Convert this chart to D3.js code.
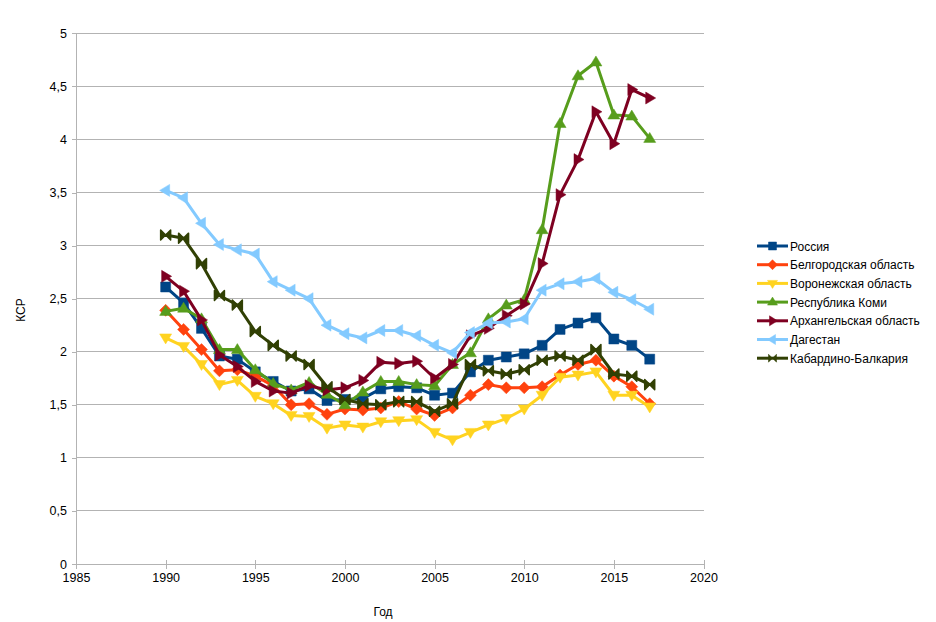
<!DOCTYPE html>
<html><head><meta charset="utf-8">
<script src="https://cdn.jsdelivr.net/npm/d3@7"></script>
<style>body{margin:0;background:#fff}svg{font-family:"Liberation Sans",Arial,sans-serif}</style>
</head><body><svg id="c" width="936" height="622"></svg>
<script>
const years = d3.range(1990, 2018);
const seriesNames = ["Россия","Белгородская область","Воронежская область","Республика Коми","Архангельская область","Дагестан","Кабардино-Балкария"];
const colors = ["#004586","#ff420e","#ffd320","#579d1c","#7e0021","#83caff","#314004"];
const markers = ["square","diamond","down","up","right","left","bowtie"];
const russia   = [2.61,2.46,2.22,1.96,1.93,1.81,1.72,1.63,1.65,1.54,1.55,1.56,1.65,1.67,1.66,1.59,1.61,1.81,1.92,1.95,1.98,2.06,2.21,2.27,2.32,2.12,2.06,1.93];
const belgorod = [2.39,2.21,2.02,1.82,1.83,1.77,1.68,1.50,1.51,1.41,1.46,1.45,1.47,1.53,1.46,1.40,1.47,1.59,1.69,1.66,1.66,1.67,1.78,1.88,1.92,1.77,1.67,1.51];
const voronezh = [2.13,2.05,1.88,1.69,1.73,1.58,1.51,1.40,1.39,1.28,1.31,1.29,1.34,1.35,1.36,1.24,1.17,1.24,1.31,1.37,1.46,1.59,1.76,1.78,1.81,1.59,1.59,1.48];
const komi     = [2.38,2.41,2.31,2.02,2.02,1.83,1.70,1.64,1.71,1.60,1.50,1.62,1.72,1.72,1.69,1.68,1.88,1.99,2.31,2.44,2.49,3.15,4.15,4.60,4.73,4.23,4.22,4.01];
const arkh     = [2.71,2.57,2.30,1.97,1.86,1.72,1.63,1.61,1.68,1.64,1.66,1.73,1.90,1.89,1.91,1.75,1.88,2.15,2.22,2.34,2.45,2.83,3.48,3.81,4.26,3.96,4.47,4.39];
const dagestan = [3.52,3.45,3.21,3.01,2.96,2.92,2.66,2.58,2.50,2.25,2.17,2.13,2.20,2.20,2.15,2.06,1.99,2.18,2.27,2.28,2.31,2.58,2.64,2.66,2.69,2.56,2.49,2.40];
const kbr      = [3.10,3.07,2.83,2.53,2.44,2.19,2.06,1.96,1.88,1.67,1.55,1.51,1.50,1.53,1.53,1.44,1.51,1.88,1.82,1.79,1.83,1.92,1.96,1.92,2.02,1.79,1.77,1.69];
const values = [russia,belgorod,voronezh,komi,arkh,dagestan,kbr];
const xTicks = d3.range(1985, 2021, 5);
const yTicks = d3.range(0, 5.01, 0.5);

const svg = d3.select("#c");
const x = d3.scaleLinear().domain([1985,2020]).range([76,703.5]);
const y = d3.scaleLinear().domain([0,5]).range([564,33.3]);
const grid = "#b3b3b3";

// gridlines
svg.append("g").selectAll("line").data(yTicks).join("line")
  .attr("x1",x(1985)).attr("x2",x(2020)).attr("y1",d=>y(d)).attr("y2",d=>y(d))
  .attr("stroke",grid).attr("stroke-width",1).attr("shape-rendering","crispEdges");

// y axis
const ya = svg.append("g").attr("transform",`translate(${x(1985)},0)`)
  .call(d3.axisLeft(y).tickValues(yTicks).tickSize(4).tickPadding(5).tickFormat(d=>d3.format("")(d).replace(".",",")));
ya.select(".domain").attr("stroke",grid).attr("shape-rendering","crispEdges");
ya.selectAll(".tick line").attr("stroke",grid).attr("shape-rendering","crispEdges");
ya.selectAll("text").attr("font-size",12.5).attr("fill","#000").attr("font-family","Liberation Sans, Arial, sans-serif");

// x axis
const xa = svg.append("g").attr("transform",`translate(0,${y(0)})`)
  .call(d3.axisBottom(x).tickValues(xTicks).tickSize(5).tickPadding(4).tickFormat(d3.format("d")));
xa.select(".domain").attr("stroke",grid).attr("shape-rendering","crispEdges");
xa.selectAll(".tick line").attr("stroke",grid).attr("y1",-4).attr("shape-rendering","crispEdges");
xa.selectAll("text").attr("font-size",12.5).attr("fill","#000").attr("font-family","Liberation Sans, Arial, sans-serif");

// axis titles
svg.append("text").attr("x",383).attr("y",616).attr("text-anchor","middle").attr("font-size",12).text("Год");
svg.append("text").attr("transform","translate(25,310) rotate(-90)").attr("text-anchor","middle").attr("font-size",12).text("КСР");

function markerPath(type, s){
  const h = s/2;
  switch(type){
    case "square": return `M${-h},${-h}H${h}V${h}H${-h}Z`;
    case "diamond": return `M0,${-h-1}L${h+1},0L0,${h+1}L${-h-1},0Z`;
    case "down": return `M${-h-1},${-h+1}L${h+1},${-h+1}L0,${h+1}Z`;
    case "up": return `M${-h-1},${h-1}L${h+1},${h-1}L0,${-h-1}Z`;
    case "right": return `M${-h+1},${-h-1}L${-h+1},${h+1}L${h+1},0Z`;
    case "left": return `M${h-1},${-h-1}L${h-1},${h+1}L${-h-1},0Z`;
    case "bowtie": return `M${-h},${-h}L0,0L${-h},${h}ZM${h},${-h}L0,0L${h},${h}Z`;
  }
}

const line = d3.line().x(d=>x(d[0])).y(d=>y(d[1]));
values.forEach((vals,i)=>{
  const pts = years.map((yr,j)=>[yr,vals[j]]);
  const g = svg.append("g");
  g.append("path").datum(pts).attr("d",line).attr("fill","none")
    .attr("stroke",colors[i]).attr("stroke-width",3).attr("stroke-linejoin","round");
  g.selectAll("path.m").data(pts).join("path").attr("class","m")
    .attr("d",markerPath(markers[i],10))
    .attr("transform",d=>`translate(${x(d[0])},${y(d[1])})`)
    .attr("fill",colors[i]).attr("stroke",colors[i]).attr("stroke-width",markers[i]==="bowtie"?1.5:0.5).attr("stroke-linejoin","round");
});

// legend
const lg = svg.append("g").attr("transform","translate(757,246)");
seriesNames.forEach((n,i)=>{
  const r = lg.append("g").attr("transform",`translate(0,${i*18.7})`);
  r.append("line").attr("x1",0).attr("x2",31).attr("y1",0).attr("y2",0).attr("stroke",colors[i]).attr("stroke-width",3);
  r.append("path").attr("d",markerPath(markers[i],8)).attr("transform","translate(15.5,0)").attr("fill",colors[i]).attr("stroke",colors[i]).attr("stroke-width",0.5);
  r.append("text").attr("x",33).attr("y",4.5).attr("font-size",12).attr("fill","#000").text(n);
});
</script></body></html>
